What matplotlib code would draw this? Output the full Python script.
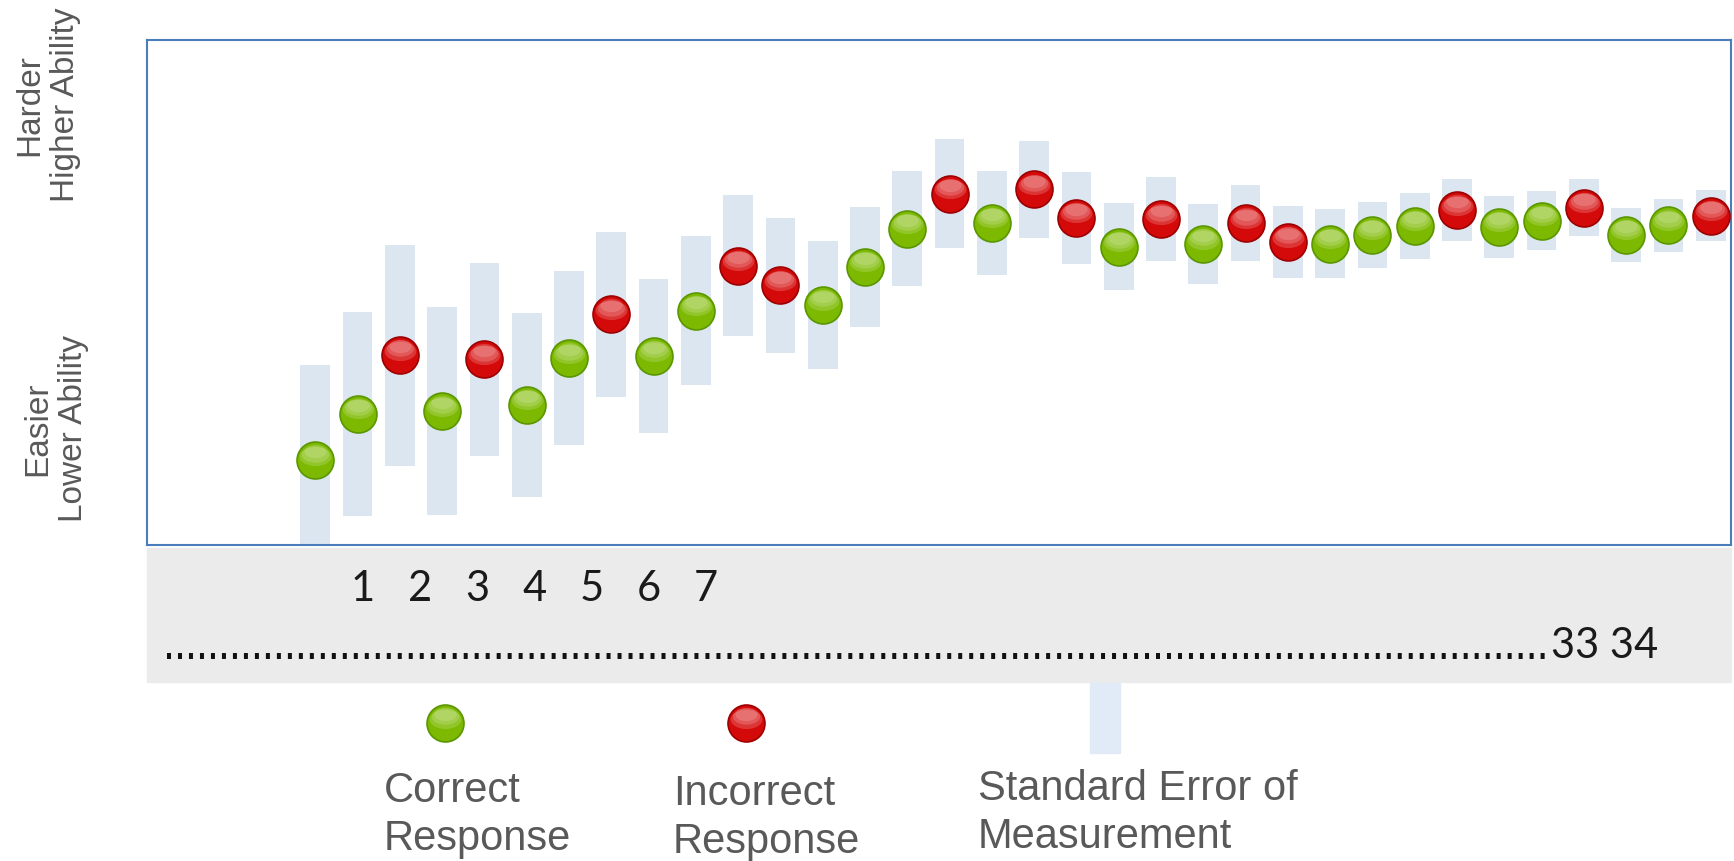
import numpy as np
import matplotlib.pyplot as plt
from matplotlib.path import Path
from matplotlib.patches import Rectangle
from matplotlib.transforms import Affine2D, ScaledTranslation

# Item-by-item path of an adaptive test (ability estimate after each item)
items = np.arange(1, 35)
ability = np.array([1.68, 2.60, 3.76, 2.65, 3.68, 2.78, 3.70, 4.57, 3.74, 4.64,
                    5.53, 5.14, 4.75, 5.51, 6.26, 6.96, 6.38, 7.04, 6.48, 5.91,
                    6.45, 5.96, 6.37, 6.00, 5.97, 6.14, 6.32, 6.63, 6.30, 6.42,
                    6.68, 6.14, 6.33, 6.52])
se = np.array([1.88, 2.02, 2.19, 2.06, 1.91, 1.82, 1.72, 1.63, 1.53, 1.48,
               1.40, 1.33, 1.27, 1.19, 1.14, 1.08, 1.03, 0.96, 0.91, 0.86,
               0.83, 0.79, 0.75, 0.72, 0.69, 0.65, 0.65, 0.62, 0.61, 0.58,
               0.56, 0.54, 0.53, 0.51])
response = ['C', 'C', 'I', 'C', 'I', 'C', 'C', 'I', 'C', 'C',
            'I', 'I', 'C', 'C', 'C', 'I', 'C', 'I', 'I', 'C',
            'I', 'C', 'I', 'I', 'C', 'C', 'C', 'I', 'C', 'C',
            'I', 'C', 'C', 'I']

band_labels = ['1', '2', '3', '4', '5', '6', '7']
band_tail = '33 34'

GREEN = ('#7cb900', '#5a9600', '#e2f2c2')
RED = ('#d40a0a', '#9c0000', '#fbd0d0')
SE_COLOR = '#dce6f1'
GREY_TEXT = '#595959'

W, H = 1734, 861
fig = plt.figure(figsize=(W / 100, H / 100), dpi=100)

ax = fig.add_axes([147 / W, 1 - 545 / H, (1731 - 147) / W, (545 - 40) / H])
ax.set_xlim(-2.98, 34.48)
ax.set_ylim(0, 10)
ax.set_xticks([])
ax.set_yticks([])
for sp in ax.spines.values():
    sp.set_color('#4a7ebb')
    sp.set_linewidth(1.5)

D = 26.6  # marker diameter in points
shine = Path.unit_circle().transformed(Affine2D().scale(1, 0.6))


def glossy(a, x, y, colors, transform):
    fill, edge, light = colors
    a.scatter(x, y, s=D ** 2, c=fill, edgecolors=edge, linewidths=1.2,
              transform=transform, zorder=3)
    # stacked translucent ellipses give the glassy top highlight
    for k, (frac, lift) in enumerate([(0.86, 0.12), (0.74, 0.18), (0.6, 0.24)]):
        off = ScaledTranslation(0, D * lift / 72, fig.dpi_scale_trans)
        a.scatter(x, y, s=(D * frac) ** 2, marker=shine, c=light, alpha=0.22,
                  linewidths=0, transform=transform + off, zorder=4 + k)


# standard error bands
ax.bar(items, 2 * se, bottom=ability - se, width=0.7, color=SE_COLOR, zorder=1)

correct = np.array([r == 'C' for r in response])
glossy(ax, items[correct], ability[correct], GREEN, ax.transData)
glossy(ax, items[~correct], ability[~correct], RED, ax.transData)

# overlay in pixel units for the annotations around the chart
ov = fig.add_axes([0, 0, 1, 1])
ov.set_xlim(0, W)
ov.set_ylim(H, 0)
ov.set_axis_off()

ov.add_patch(Rectangle((147, 548), 1584, 134, color='#ebebeb', zorder=0))
for i, lab in enumerate(band_labels):
    ov.text(363 + 57.2 * i, 601, lab, ha='center', va='baseline',
            fontsize=30, family='Lato', color='#1a1a1a')
ov.plot([167, 1549], [656, 656], color='#111111', lw=4.3,
        linestyle=(0, (0.67, 1.17)), dash_capstyle='butt')
ov.text(1551, 658, band_tail, ha='left', va='baseline', fontsize=30,
        family='Lato', color='#1a1a1a')

ov.text(48, 202, 'Harder\nHigher Ability', rotation=90, ha='center',
        va='bottom', fontsize=24, family='Liberation Sans', color=GREY_TEXT)
ov.text(56, 522, 'Easier\nLower Ability', rotation=90, ha='center',
        va='bottom', fontsize=24, family='Liberation Sans', color=GREY_TEXT)

# legend (baseline of the last line of each label)
glossy(ov, [445], [723], GREEN, ov.transData)
glossy(ov, [746], [723], RED, ov.transData)
ov.add_patch(Rectangle((1090, 683), 30, 70, color='#e0ebf7', zorder=1))
ov.text(384, 850, 'Correct\nResponse', ha='left', va='baseline', fontsize=30,
        linespacing=1.25, family='Liberation Sans', color=GREY_TEXT)
ov.text(673, 853, 'Incorrect\nResponse', ha='left', va='baseline', fontsize=30,
        linespacing=1.25, family='Liberation Sans', color=GREY_TEXT)
ov.text(978, 848, 'Standard Error of\nMeasurement', ha='left', va='baseline',
        fontsize=30, linespacing=1.25, family='Liberation Sans', color=GREY_TEXT)

fig.savefig('out.png', dpi=100)
